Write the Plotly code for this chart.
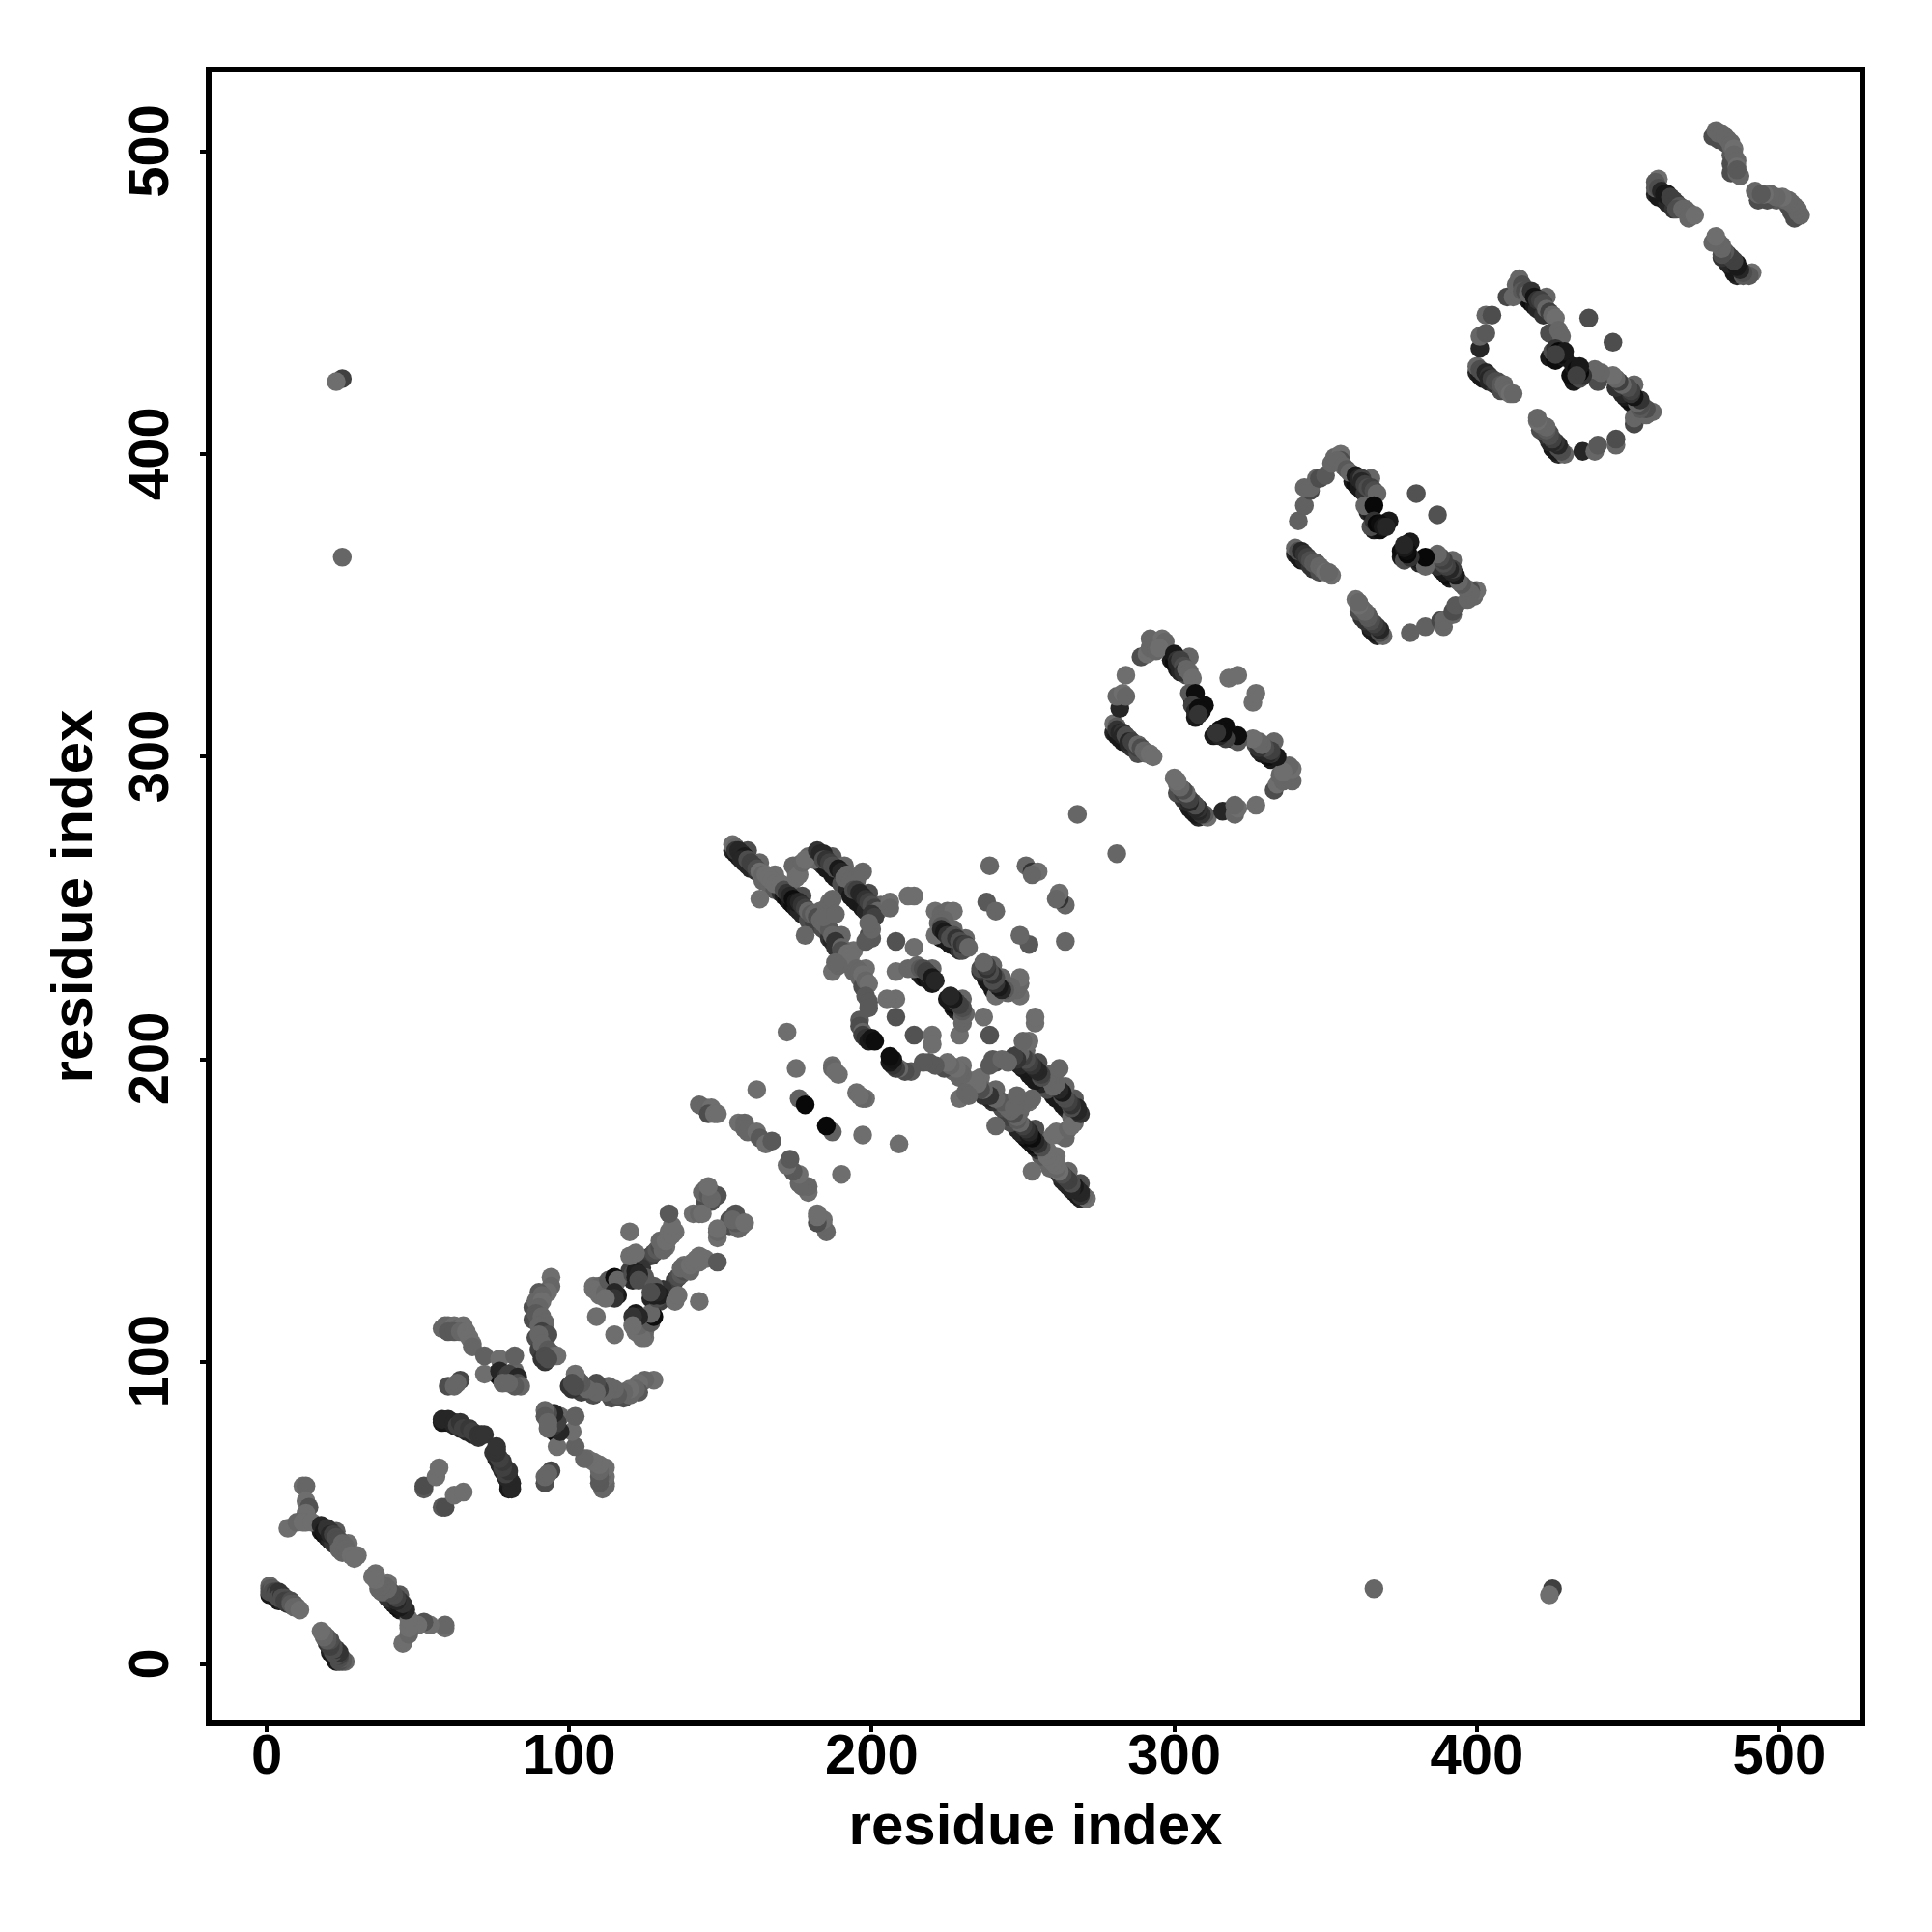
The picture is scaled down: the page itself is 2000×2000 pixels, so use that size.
import plotly.graph_objects as go

# Contacts (residue i, residue j, contact strength); the map is symmetric.
hairpin_a = [(1,26,.6),(1,25,.65),(1,24,.7),(2,25,.65),(2,24,.7),(3,24,.75),(3,23,.7),(4,24,.8),(4,22,.7),(5,23,.8),(5,22,.7),(6,22,.7),(6,21,.75),(7,21,.75),(8,21,.7),(8,20,.65),(9,20,.65),(9,19,.6),(10,19,.6),(11,18,.57)]
hairpin_b = [(12,59,.57),(13,59,.6),(13,54,.57),(14,52,.68),(13,50,.57),(7,45,.57),(10,47,.6),(13,47,.57),(12,47,.57),(15,47,.57),(18,46,.85),(19,45,.85),(19,44,.9),(20,45,.8),(21,44,.8),(21,43,.85),(22,43,.75),(23,42,.7),(24,41,.7),(25,40,.6),(26,39,.6),(24,38,.6),(25,37,.6),(26,38,.6),(27,37,.6),(28,36,.57),(30,36,.57),(29,35,.57)]
domain_a1 = [(52,58,.65),(52,59,.7),(56,62,.57),(57,65,.57),(60,92,.7),(62,92,.6),(64,94,.72),(63,93,.6),(59,112,.6),(58,111,.6),(60,112,.6),(62,112,.57),(63,111,.6),(65,112,.57),(60,110,.65),(62,110,.65),(64,110,.6),(66,110,.57),(67,108,.57),(68,106,.57),(68,105,.6),(72,102,.62),(77,101,.57),(72,96,.57),(82,102,.62),
(77,97,.85),(78,96,.85),(79,95,.8),(80,96,.75),(81,94,.75),(83,95,.85),(83,93,.7),(84,92,.6),(82,92,.65),(78,93,.6),(80,93,.6),
(58,81,.85),(60,81,.85),(62,80,.85),(63,79,.75),(64,80,.8),(65,78,.75),(67,78,.78),(68,77,.75),(70,76,.8),(71,76,.8),(72,76,.8),
(94,128,.57),(94,125,.6),(93,123,.57),(90,123,.65),(91,122,.6),(89,120,.6),(91,120,.57),(90,118,.6),(89,116,.65),(91,115,.6),(92,113,.6),(90,112,.6),(91,110,.75),(93,109,.7),(90,109,.6),(91,106,.6),(93,104,.65),(94,103,.65),(95,102,.6),(96,102,.57),(92,102,.7),(93,101,.7)]
domain_a2 = [(108,125,.57),(110,125,.6),(108,124,.57),(110,122,.57),(112,123,.6),(113,127,.65),(115,128,.95),(116,127,.6),(115,123,.85),(115,121,.8),(112,121,.57),(109,115,.57),(121,129,.7),(122,130,.88),(122,128,.88),(123,129,.85),(123,127,.7),(120,135,.57),(122,136,.57),(120,143,.57),
(129,137,.65),(130,138,.7),(131,137,.6),(130,140,.6),(132,140,.57),(133,141,.57),(133,143,.57),(134,142,.57),(134,145,.57),(133,149,.65),(141,149,.57),(143,149,.6),(144,149,.57),
(145,157,.6),(146,156,.6),(144,156,.6),(146,155,.65),(147,156,.6),(148,155,.68),(149,155,.68),(147,154,.6),(146,158,.57),
(143,185,.6),(145,184,.6),(146,183,.6),(147,184,.57),(146,182,.7),(148,182,.57),(149,182,.57),
(156,179,.57),(158,179,.6),(158,177,.6),(159,176,.6),(162,176,.57),(163,174,.65),(165,172,.57),(167,173,.65),(162,190,.57),(172,209,.57),(175,197,.57),(176,187,.62),(178,185,.97),(187,198,.57),(187,197,.6),(189,195,.57),(188,196,.57)]
strand_a = [(154,271,.57),(155,270,.6),(155,269,.8),(156,269,.85),(157,268,.85),(158,267,.9),(157,266,.85),(159,266,.7),(160,265,.75),(161,264,.75),(162,263,.7),(163,262,.57),(164,261,.6),(165,261,.57),(166,260,.57),(167,259,.57),(168,258,.57),(170,258,.57),(171,256,.7),(172,255,.8),(173,254,.85),(174,253,.95),(175,252,.9),(176,252,.85),(177,251,.8),(178,250,.75),(179,249,.6),(180,248,.65),(181,248,.6),(182,247,.7),(183,246,.6),(184,245,.6),(185,244,.6),(186,243,.65),(187,241,.6),(188,240,.6),(188,239,.8),(190,237,.6),(190,236,.7),(192,235,.57),(193,234,.57),(195,230,.6),(196,229,.6),(197,228,.57),(198,226,.6),(199,225,.57),(198,221,.65),(199,219,.65),(199,217,.65),(196,213,.65),(196,211,.7),(197,209,.6),(197,208,.75),(198,207,.8),(199,206,.9),(200,207,.92),(201,206,.95),
(163,253,.57),(178,241,.6),(187,229,.57),(189,231,.6),(188,232,.6),(175,262,.57),(174,264,.6),(175,260,.57),(176,261,.57),(177,265,.6),(179,267,.6),(181,266,.6),(178,266,.57),(186,252,.57),(185,250,.6),(187,253,.6),(184,247,.6),(188,248,.6)]
strand_b = [(182,269,.8),(183,268,.85),(184,268,.85),(184,266,.7),(185,266,.8),(186,265,.75),(187,264,.7),(188,263,.7),(189,263,.9),(190,262,.85),(191,260,.6),(192,261,.6),(193,259,.6),(194,258,.6),(194,256,.7),(195,256,.75),(196,255,.85),(197,254,.85),(198,253,.8),(199,252,.75),(200,251,.7),(201,250,.75),(202,249,.6),(200,248,.8),(201,247,.75),(197,262,.6),(206,252,.57),(206,250,.6),(212,254,.57),(214,254,.57),(199,241,.7),(200,240,.65),(198,239,.65),(200,243,.6),(199,245,.6)]
centre = [(208,229,.57),(212,230,.6),(214,230,.6),(215,231,.6),(216,230,.65),(217,230,.7),(218,229,.75),(219,228,.75),(220,227,.9),(221,226,.85),(214,237,.57),(208,239,.68),(208,214,.68),(208,220,.57),(205,220,.57),
(221,249,.57),(223,248,.6),(225,249,.6),(227,249,.57),(224,246,.6),(222,245,.6),(223,244,.65),(221,241,.57),(223,243,.85),(224,242,.9),(225,241,.8),(226,240,.7),(227,241,.7),(228,240,.8),(229,239,.7),(230,238,.8),(231,238,.75),(232,237,.6),
(238,252,.65),(241,249,.6),(239,264,.6),(251,264,.6),(253,262,.8),(255,262,.57),(253,261,.6),(268,281,.6)]
domain_b = [(280,311,.57),(281,310,.65),(281,309,.8),(282,308,.85),(283,308,.8),(283,307,.85),(284,307,.7),(285,306,.7),(285,305,.85),(286,305,.75),(287,304,.75),(288,303,.75),(288,304,.6),(289,303,.7),(290,302,.6),(291,301,.6),(292,301,.57),(293,300,.57),
(282,316,.85),(281,320,.6),(283,321,.57),(284,320,.6),(284,327,.57),(289,333,.7),(291,334,.57),(292,336,.6),(292,339,.6),(294,335,.6),(295,338,.6),(296,339,.57),(297,338,.6),(295,336,.57),
(300,334,.9),(301,332,.8),(301,331,.85),(302,332,.75),(303,330,.7),(303,328,.8),(304,329,.6),(305,328,.6),(306,326,.57),(305,321,.65),(307,321,.95),(306,317,.75),(307,315,.85),(308,316,.95),(309,315,.95),(308,314,.8),(318,326,.57),(321,327,.57)]
domain_c = [(340,369,.6),(341,368,.7),(342,368,.85),(343,367,.8),(344,366,.75),(345,365,.7),(346,364,.65),(347,364,.65),(348,363,.6),(349,362,.6),(350,361,.57),(352,360,.57),(351,361,.6),
(341,378,.62),(343,383,.62),(345,388,.72),(343,389,.6),(345,389,.6),(347,392,.6),(348,392,.7),(350,393,.65),(352,397,.6),(353,399,.6),(355,400,.57),(355,398,.7),(354,398,.6),(356,396,.6),(357,395,.65),(358,394,.6),
(360,393,.9),(361,392,.85),(362,392,.75),(362,391,.85),(363,390,.75),(364,389,.7),(365,389,.75),(366,388,.7),(367,387,.6),(363,383,.6),(366,383,.97),(365,376,.7),(366,378,.8),(367,377,.97),(368,377,.95),(369,376,.9),(370,376,.85),(380,387,.68)]
domain_d = [(400,429,.6),(401,428,.7),(402,427,.7),(403,427,.85),(404,426,.8),(404,425,.85),(405,425,.75),(406,424,.7),(407,424,.7),(408,423,.65),(409,423,.6),(410,421,.6),(411,420,.57),(412,420,.6),
(401,435,.85),(401,439,.6),(403,440,.65),(403,446,.6),(405,446,.7),(410,452,.72),(412,452,.6),(414,458,.6),(413,456,.6),(415,456,.7),(415,454,.65),(416,454,.7),(417,453,.6),(418,454,.8),(419,452,.92),(420,451,.8),(421,451,.75),(422,450,.7),(423,448,.6),(424,447,.75),(425,446,.6),(426,445,.57),
(424,440,.7),(427,441,.6),(428,439,.6),(425,434,.7),(426,435,.8),(427,434,.97),(428,433,.95),(429,434,.9),(426,433,.75),(437,445,.7)]
domain_e = [(460,491,.57),(459,490,.65),(459,488,.65),(460,488,.7),(461,487,.85),(462,486,.9),(463,486,.9),(464,485,.75),(465,484,.75),(466,483,.75),(467,482,.65),(466,481,.7),(468,481,.6),(469,481,.6),(470,480,.6),(471,479,.6),(470,478,.6),(472,479,.57),
(479,507,.6),(480,506,.6),(481,506,.6),(482,505,.6),(483,504,.6),(484,503,.6),(484,502,.6),(485,501,.57),(485,499,.6),(486,497,.6),(486,495,.57),(486,493,.6),(487,492,.6),(486,494,.65)]
long_range = [(25,425,.75),(23,424,.57),(25,366,.6)]

# Neighbouring contacts that widen the bands (drawn underneath the list above).
band_strand_a = [(154,269,.85),(155,268,.9),(156,267,.9),(157,266,.9),(158,265,.9),(159,264,.85),(160,263,.85),(162,262,.8),(164,259,.6),(166,258,.6),(168,256,.65),(170,255,.8),(171,254,.9),(172,253,.95),(173,252,.9),(174,251,.95),(175,250,.9),(176,249,.85),(177,248,.85),(179,246,.7),(181,245,.75),(183,244,.75),(184,243,.7),(186,240,.8),(187,239,.85),(188,237,.8),(190,234,.75),(192,232,.6),(194,229,.6),(196,227,.6),(197,224,.7),
(159,269,.7),(163,265,.6),(168,261,.57),(173,257,.6),(177,254,.7),(183,249,.6),(190,241,.6),(194,236,.57),(198,230,.57)]
band_strand_b = [(181,267,.85),(182,266,.9),(183,265,.85),(184,264,.85),(185,263,.9),(187,261,.9),(188,260,.9),(190,258,.7),(192,256,.85),(193,254,.9),(194,253,.9),(195,252,.9),(197,250,.9),(198,249,.85),(199,248,.85),(200,246,.8),
(187,267,.65),(191,264,.6),(195,259,.6),(199,255,.7),(203,251,.6)]
band_centre = [(222,241,.9),(223,240,.9),(224,240,.95),(225,239,.9),(226,238,.9),(228,237,.9),(229,236,.8),(230,236,.7),(227,243,.6),(231,240,.6),
(216,228,.85),(217,227,.9),(218,227,.95),(219,226,.9),(220,225,.9),(220,230,.6)]
band_domain_b = [(280,308,.85),(281,307,.9),(282,306,.9),(283,305,.9),(285,304,.85),(286,303,.8),(288,301,.7),
(299,332,.9),(300,331,.95),(301,329,.9),(302,328,.85),(304,327,.7),(305,333,.6),
(306,319,.9),(307,318,.9),(307,313,.9),(310,317,.95)]
band_domain_c = [(340,367,.85),(341,366,.9),(342,365,.9),(343,365,.85),(345,363,.8),(346,362,.8),(348,361,.7),
(359,391,.9),(360,390,.95),(361,389,.9),(362,388,.9),(363,387,.8),(365,392,.6),
(364,381,.85),(365,381,.9),(366,375,.9),(368,375,.95),(371,378,.9)]
band_domain_d = [(400,427,.85),(401,426,.9),(402,425,.9),(403,425,.9),(404,424,.85),(406,423,.8),(408,421,.7),
(417,451,.9),(418,450,.95),(419,449,.9),(420,448,.85),(422,446,.8),(423,452,.6),
(424,432,.9),(426,431,.95),(429,432,.9)]
band_domain_e = [(459,486,.85),(460,485,.9),(461,485,.9),(462,484,.9),(463,483,.85),(465,481,.8),
(478,505,.7),(480,504,.7),(482,503,.7),(484,499,.65),(484,496,.7),(484,493,.7)]
band_hairpins = [(1,23,.9),(2,23,.9),(3,22,.9),(4,21,.9),(5,21,.85),(7,20,.8),
(18,44,.9),(19,43,.95),(20,43,.9),(20,42,.9),(21,41,.85),(22,40,.8),(24,39,.6),(23,44,.65),(27,40,.57)]
band_domain_a = [(58,80,.9),(60,80,.9),(62,79,.85),(64,78,.85),(66,77,.85),(68,76,.85),(70,75,.8),
(76,96,.9),(77,95,.95),(78,94,.9),(80,94,.85),(81,93,.8),(82,97,.6),
(88,114,.7),(88,118,.7),(89,108,.7),(90,104,.75),(91,101,.8),(92,100,.8),
(147,153,.7),(145,153,.7),(127,135,.75),(128,136,.7),(132,138,.57),(135,143,.57),(114,126,.8),(114,122,.85),(116,122,.9),(120,128,.85),(120,130,.75),(121,127,.85),(124,131,.8),(125,128,.65)]

tick_values = [0, 100, 200, 300, 400, 500]
axis_title = "residue index"

groups = [band_hairpins, band_domain_a, band_strand_a, band_strand_b, band_centre,
          band_domain_b, band_domain_c, band_domain_d, band_domain_e,
          hairpin_a, hairpin_b, domain_a1, domain_a2, strand_a, strand_b, centre,
          domain_b, domain_c, domain_d, domain_e, long_range]
contacts = [c for g in groups for c in g]
xs = [c[0] for c in contacts] + [c[1] for c in contacts]
ys = [c[1] for c in contacts] + [c[0] for c in contacts]
ps = [c[2] for c in contacts] * 2
def grey(p):
    v = round(255 * (1 - p))
    return f"rgb({v},{v},{v})"

fig = go.Figure(go.Scatter(
    x=xs, y=ys, mode="markers", showlegend=False,
    marker=dict(color=[grey(p) for p in ps], size=19.5, opacity=1, line=dict(width=0)),
))

FONT = "Liberation Sans, Arial, Helvetica, sans-serif"
def axis(rng, standoff, label_standoff):
    return dict(
        range=rng, tickvals=tick_values, ticks="outside", ticklen=6, tickwidth=4,
        tickcolor="black", showline=True, linewidth=6, linecolor="black", mirror=True,
        showgrid=False, zeroline=False, ticklabelstandoff=label_standoff,
        tickfont=dict(family=FONT, size=58, color="black", weight="bold"),
        title=dict(text=axis_title, standoff=standoff,
                   font=dict(family=FONT, size=60, color="black", weight="bold")),
    )

xa = axis([-18.2, 526.5], 22, -27)
ya = axis([-18.5, 526.2], 8, 10)
ya["tickangle"] = -90
ya["ticklabelshift"] = 8

fig.update_layout(
    width=2000, height=2000, paper_bgcolor="white", plot_bgcolor="white",
    margin=dict(l=219, r=75, t=75, b=219, autoexpand=False),
    xaxis=xa, yaxis=ya,
)
fig.write_html("out.html", config=dict(displayModeBar=False),
               post_script="document.body.style.margin='0';")
